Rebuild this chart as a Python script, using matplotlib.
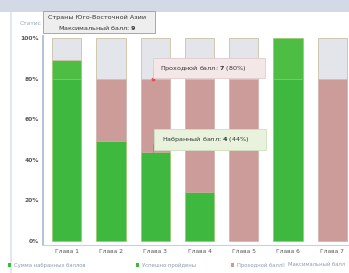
import matplotlib
matplotlib.use("Agg")
import matplotlib.pyplot as plt
from matplotlib.patches import Rectangle
import numpy as np

categories = ['Глава 1', 'Глава 2', 'Глава 3', 'Глава 4', 'Глава 5', 'Глава 6', 'Глава 7']
scored = [89, 49, 44, 24, 0, 100, 0]
passing = [80, 80, 80, 80, 80, 80, 80]
maximum = [100, 100, 100, 100, 100, 100, 100]
yticks = [0, 20, 40, 60, 80, 100]
ytick_labels = ['0%', '20%', '40%', '60%', '80%', '100%']
legend_labels = ['Сумма набранных баллов', 'Успешно пройдены', 'Проходной балл', 'Максимальный балл']

GREEN = '#3fb83f'
GREEN2 = '#4dbd43'
PINK = '#cc9c9b'
GRAY = '#e4e5ea'
EDGE_G = '#c9c2a6'

fig = plt.figure(figsize=(3.49, 2.73), dpi=100)
fig.patch.set_facecolor('white')
fig.patches.append(Rectangle((0, 0.955), 1, 0.045, transform=fig.transFigure,
                             facecolor='#d3dae6', edgecolor='none', zorder=0))
fig.patches.append(Rectangle((0.03, 0.0), 0.004, 0.955, transform=fig.transFigure,
                             facecolor='#e3e8f0', edgecolor='none', zorder=0))

ax = fig.add_axes([0.123, 0.103, 0.877, 0.765])
x = np.arange(len(categories))
w = 0.66
for i in range(len(categories)):
    s = scored[i]
    p = passing[i]
    m = maximum[i]
    if s >= p:
        ax.bar(x[i], p, width=w, color=GREEN, edgecolor='#9cc060', linewidth=0.4, zorder=2)
        ax.bar(x[i], s - p, bottom=p, width=w, color=GREEN2, edgecolor='#9cc060', linewidth=0.4, zorder=2)
    else:
        if s > 0:
            ax.bar(x[i], s, width=w, color=GREEN, edgecolor='#9cc060', linewidth=0.4, zorder=2)
        ax.bar(x[i], p - s, bottom=s, width=w, color=PINK, edgecolor='#c9a9a0', linewidth=0.4, zorder=2)
    top = max(s, p)
    if m > top:
        ax.bar(x[i], m - top, bottom=top, width=w, color=GRAY, edgecolor=EDGE_G, linewidth=0.6, zorder=2)

ax.set_xlim(-0.54, 6.38)
ax.set_ylim(-1.96, 100.98)
ax.set_yticks(yticks)
ax.set_yticklabels(ytick_labels, fontsize=4.3, color='#555555', fontweight='bold')
ax.set_xticks(x)
ax.set_xticklabels(categories, fontsize=4.3, color='#555555')
ax.tick_params(length=0, pad=3)
for s in ['top', 'right']:
    ax.spines[s].set_visible(False)
ax.spines['left'].set_color('#aab8d0')
ax.spines['left'].set_linewidth(1.2)
ax.spines['bottom'].set_color('#c8d0dc')
ax.spines['bottom'].set_linewidth(0.8)

fig.text(0.055, 0.915, 'Статис', fontsize=4.3, color='#9aa6bb', va='center')

def tooltip(xf, yf, wf, hf, fc, ec, lines):
    fig.patches.append(Rectangle((xf, yf), wf, hf, transform=fig.transFigure,
                                 facecolor=fc, edgecolor=ec, linewidth=0.6, zorder=5))
    for (tx, ty, t) in lines:
        fig.text(tx, ty, t, fontsize=4.6, color='#333333', va='center', zorder=6)

tooltip(43/349, 1 - 33/273, 112/349, 22/273, '#eeeeee', '#9a9a9a',
        [(48/349, 1 - 17/273, 'Страны Юго-Восточной Азии'),
         (58/349, 1 - 28/273, 'Максимальный балл: $\\bf{9}$')])

tooltip(153/349, 1 - 78/273, 112/349, 20/273, '#f4e7e7', '#e0cccc',
        [(160/349, 1 - 68/273, 'Проходной балл: $\\bf{7}$ (80%)')])

tooltip(154/349, 1 - 150/273, 112/349, 21/273, '#e8f2dc', '#cfe0bf',
        [(162/349, 1 - 139.5/273, 'Набранный балл: $\\bf{4}$ (44%)')])

ax.plot([2 - 0.05, 2 - 0.05], [80, 84.5], color='#888888', lw=0.5, zorder=4)
ax.plot([2 - 0.05], [80], marker='o', ms=1.8, color='#e05050', zorder=4)
ax.plot([2 - 0.05, 2 - 0.05], [44, 48], color='#888888', lw=0.5, zorder=4)

leg_colors = [GREEN, GREEN, PINK, GRAY]
leg_x = [8, 136, 231, 282]
for lx, c, t in zip(leg_x, leg_colors, legend_labels):
    fig.patches.append(Rectangle((lx/349, 1 - 267/273), 3/349, 4/273, transform=fig.transFigure,
                                 facecolor=c, edgecolor='none'))
    fig.text((lx + 6)/349, 1 - 265/273, t, fontsize=3.8, color='#8a9ab5', va='center')

fig.savefig('out.png', dpi=100)
